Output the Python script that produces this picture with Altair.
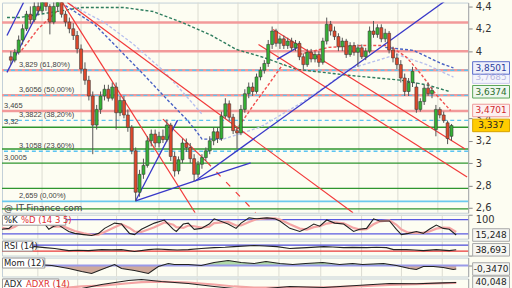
import altair as alt
import pandas as pd

# ---------------- price bars (weekly, index 0..113) ----------------
opens = [3.95, 3.92, 3.99, 4.10, 4.20, 4.33, 4.28, 4.40, 4.36, 4.45, 4.40, 4.26, 4.40, 4.44, 4.33, 4.26, 4.20, 4.14, 4.02, 3.84,
         3.74, 3.60, 3.34, 3.48, 3.60, 3.66, 3.58, 3.68, 3.45, 3.56, 3.43, 3.32, 3.11, 2.74, 2.90, 2.98, 3.20, 3.26, 3.18, 3.24,
         3.21, 3.34, 3.06, 2.93, 3.03, 3.18, 3.14, 3.04, 2.90, 2.99, 3.05, 3.11, 3.20, 3.28, 3.22, 3.42, 3.53, 3.41, 3.29, 3.27,
         3.48, 3.62, 3.68, 3.64, 3.77, 3.83, 3.89, 4.06, 4.18, 4.07, 4.11, 4.05, 4.09, 4.03, 4.07, 3.95, 3.88, 3.99, 3.93, 3.97,
         3.90, 4.09, 4.24, 4.18, 4.13, 4.04, 4.09, 3.97, 4.05, 3.99, 4.03, 3.95, 4.00, 4.18, 4.15, 4.21, 4.11, 4.16, 4.01, 3.94,
         3.88, 3.76, 3.64, 3.72, 3.68, 3.48, 3.55, 3.67, 3.62, 3.30, 3.48, 3.43, 3.36, 3.24]
highs = [4.00, 4.02, 4.14, 4.24, 4.36, 4.40, 4.44, 4.48, 4.50, 4.50, 4.42, 4.44, 4.50, 4.46, 4.36, 4.30, 4.25, 4.18, 4.06, 3.90,
         3.78, 3.64, 3.52, 3.64, 3.70, 3.70, 3.72, 3.72, 3.60, 3.60, 3.48, 3.34, 3.14, 2.94, 3.04, 3.24, 3.30, 3.30, 3.28, 3.30,
         3.39, 3.36, 3.10, 3.06, 3.22, 3.22, 3.18, 3.08, 3.02, 3.08, 3.14, 3.24, 3.32, 3.32, 3.46, 3.58, 3.56, 3.44, 3.32, 3.52,
         3.66, 3.72, 3.72, 3.80, 3.86, 3.92, 4.10, 4.22, 4.20, 4.14, 4.14, 4.12, 4.12, 4.10, 4.09, 3.98, 4.02, 4.02, 4.00, 4.00,
         4.12, 4.30, 4.27, 4.22, 4.16, 4.12, 4.11, 4.08, 4.08, 4.06, 4.06, 4.03, 4.22, 4.27, 4.24, 4.24, 4.20, 4.18, 4.04, 3.98,
         3.92, 3.80, 3.76, 3.86, 3.72, 3.58, 3.70, 3.72, 3.68, 3.52, 3.50, 3.46, 3.38, 3.35]
lows = [3.88, 3.90, 3.97, 4.06, 4.18, 4.24, 4.26, 4.32, 4.34, 4.36, 4.15, 4.24, 4.36, 4.30, 4.22, 4.16, 4.10, 3.98, 3.80, 3.70,
        3.56, 3.08, 3.30, 3.44, 3.56, 3.55, 3.56, 3.30, 3.42, 3.40, 3.28, 3.08, 2.659, 2.70, 2.86, 2.96, 3.15, 3.14, 3.14, 3.18,
        3.19, 3.02, 2.88, 2.90, 3.00, 3.10, 3.00, 2.84, 2.87, 2.95, 3.02, 3.08, 3.16, 3.18, 3.20, 3.40, 3.38, 3.26, 3.13, 3.25,
        3.45, 3.58, 3.60, 3.62, 3.74, 3.80, 3.86, 4.02, 4.04, 4.02, 4.02, 4.02, 4.00, 4.00, 3.92, 3.84, 3.86, 3.90, 3.90, 3.86,
        3.88, 4.06, 4.14, 4.10, 4.00, 4.00, 3.94, 3.95, 3.96, 3.86, 3.93, 3.92, 3.98, 4.12, 4.12, 4.08, 4.08, 3.98, 3.90, 3.84,
        3.72, 3.60, 3.60, 3.68, 3.45, 3.46, 3.52, 3.60, 3.58, 3.24, 3.40, 3.36, 3.17, 3.20]
closes = [3.92, 3.99, 4.10, 4.20, 4.33, 4.28, 4.40, 4.36, 4.45, 4.40, 4.26, 4.40, 4.44, 4.33, 4.26, 4.20, 4.14, 4.02, 3.84, 3.74,
          3.60, 3.34, 3.48, 3.60, 3.66, 3.58, 3.68, 3.45, 3.56, 3.43, 3.32, 3.11, 2.74, 2.90, 2.98, 3.20, 3.26, 3.18, 3.24, 3.21,
          3.34, 3.06, 2.93, 3.03, 3.18, 3.14, 3.04, 2.90, 2.99, 3.05, 3.11, 3.20, 3.28, 3.22, 3.42, 3.53, 3.41, 3.29, 3.27, 3.48,
          3.62, 3.68, 3.64, 3.77, 3.83, 3.89, 4.06, 4.18, 4.07, 4.11, 4.05, 4.09, 4.03, 4.07, 3.95, 3.88, 3.99, 3.93, 3.97, 3.90,
          4.09, 4.24, 4.18, 4.13, 4.04, 4.09, 3.97, 4.05, 3.99, 4.03, 3.95, 4.00, 4.18, 4.15, 4.21, 4.11, 4.16, 4.01, 3.94, 3.88,
          3.76, 3.64, 3.72, 3.82, 3.48, 3.55, 3.67, 3.62, 3.65, 3.48, 3.43, 3.38, 3.22, 3.337]

# month separators (bar index)
grid_idx = [8, 18, 27.75, 38, 48, 58.25, 68.5, 79, 89.25, 99.25, 109.5]

# horizontal levels
red_levels = [4.257, 4.0, 3.829, 3.6056, 3.465]
green_levels = [3.32, 3.126, 3.0005, 2.775, 2.592]
fib_levels = [3.829, 3.6056, 3.3822, 3.1058]
fib_base = [2.659]
fib_text = ["3,829 (61,80%)", "3,6056 (50,00%)", "3,3822 (38,20%)", "3,1058 (23,60%)", "2,659 (0,00%)"]
fib_text_p = [3.829, 3.6056, 3.3822, 3.1058, 2.659]
lvl_text = ["3,465", "3,32", "3,0005"]
lvl_text_p = [3.465, 3.32, 3.0005]

# trend lines: (start idx, start price, end idx, end price)
blue_lines = [(-1, 4.140, 3.25, 4.434), (-1, 3.811, 8.25, 4.434), (32, 2.664, 42.75, 3.384),
              (32, 2.664, 47.25, 2.841), (47.25, 2.841, 61.5, 3.002), (47.25, 2.841, 111.5, 4.452),
              (68.25, 3.927, 73.5, 4.034)]
red_lines = [(14.5, 4.434, 87.75, 2.557), (13.25, 4.434, 47.25, 2.557), (39, 3.393, 50.25, 3.011),
             (63.5, 4.060, 117, 2.877), (67.25, 4.194, 116.5, 3.126)]
red_dash_lines = [(50.25, 3.011, 62.75, 2.557)]

# dotted curves: idx list, price list
ma_idx = [-1, 2.25, 18.25, 29, 36.5, 44, 51.5, 57.75, 64.75, 73.25, 86.5, 100.25, 107, 112.75]
ma_p = [4.301, 4.301, 4.390, 4.390, 4.354, 4.256, 4.140, 4.016, 3.945, 3.838, 3.785, 3.740, 3.696, 3.6374]
bl1_idx = [14, 21.5, 27.75, 34, 40.25, 45.25, 47.75, 49, 54.5]
bl1_p = [4.407, 4.238, 4.016, 3.793, 3.562, 3.384, 3.277, 3.215, 3.215]
bl2_idx = [15.25, 24, 31.5, 39, 45.25, 49]
bl2_p = [4.416, 4.256, 4.060, 3.829, 3.589, 3.438]
lav_idx = [54.5, 64, 74.75, 81.5, 86.5, 99, 106.5, 113.5]
lav_p = [3.215, 3.322, 3.544, 3.704, 3.838, 3.971, 3.882, 3.7685]
blr_idx = [96, 103.25, 106.5, 110.25, 113.5]
blr_p = [4.034, 4.007, 3.954, 3.891, 3.8501]
rd1_idx = [2.75, 7, 12]
rd1_p = [4.007, 4.200, 4.363]
rd3_idx = [57.75, 62.75, 66.5, 69.75]
rd3_p = [3.295, 3.544, 3.722, 3.882]
rdr_idx = [74, 81.5, 90.25, 96.5, 97.75, 101.5, 105.25, 109, 112.75]
rdr_p = [3.971, 4.034, 4.051, 4.051, 4.034, 3.945, 3.793, 3.615, 3.4701]

# value boxes on the price scale
box_lab = ["3,7685", "3,8501", "3,6374", "3,4701", "3,337"]
box_p = [3.7685, 3.8501, 3.6374, 3.4701, 3.337]
box_fill = ["#f4f4fc", "#eef0fb", "#eef7ee", "#fdf0f0", "#ffcc00"]
box_stroke = ["#c9c9ee", "#5a6ccc", "#5aa65a", "#ee9a9a", "#d9a400"]
box_txt = ["#b8b8e0", "#2b3c9a", "#2c6e2c", "#d02a2a", "#222222"]

# stochastic
k_idx = [-1, 0.75, 2.25, 4, 6.5, 9.75, 10.75, 12, 13.25, 14.5, 15.75, 17.25, 19.5, 21.5, 23.25, 24.75, 27.25, 29, 31, 32.25,
         34, 37.25, 39.75, 42, 42.75, 44.5, 45.75, 47.25, 49, 51, 52.25, 55.75, 57.75, 59, 61, 63, 65.5, 67.5, 68.75, 71.25,
         73.75, 75.5, 77.25, 78.75, 80.5, 82.5, 84.75, 87.25, 88.75, 90.5, 92.25, 93.75, 96.25, 98, 99.25, 101, 103, 104.75,
         106.25, 108, 109.75, 111.25, 113]
k_val = [39, 43, 65, 83, 87, 61, 39, 52, 57, 43, 30, 22, 17, 13, 22, 43, 65, 61, 22, 17,
         39, 65, 78, 39, 30, 61, 65, 39, 43, 61, 83, 61, 43, 65, 87, 83, 87, 83, 74, 43,
         30, 43, 61, 52, 78, 65, 61, 30, 39, 43, 83, 74, 74, 39, 17, 22, 30, 22,
         39, 57, 43, 39, 15.248]
d_val = [45, 40, 50, 68, 80, 75, 60, 50, 50, 50, 42, 32, 22, 16, 17, 28, 48, 60, 45, 30,
         28, 48, 68, 58, 48, 45, 55, 52, 46, 50, 65, 70, 55, 55, 70, 82, 85, 85, 80, 60,
         42, 38, 48, 52, 63, 68, 64, 45, 38, 40, 60, 72, 76, 58, 38, 25, 24, 25,
         30, 42, 46, 45, 28]

# RSI
rsi_idx = [-1, 3, 7.25, 9.75, 12.25, 15.75, 18, 20.75, 24, 26.5, 29, 32.25, 35.75, 38, 40.75, 43, 45.75, 49, 52.25, 55,
           57.25, 62.25, 65, 68, 71.25, 73, 75.5, 79.75, 82, 84.75, 87, 90.5, 93, 95.5, 97.25, 100.5, 102.5, 104.75, 108,
           111.25, 113]
rsi_val = [58, 65, 60, 53, 47, 33, 36, 33, 40, 38, 40, 27, 40, 44, 40, 37, 40, 47, 53, 56,
           60, 67, 64, 60, 47, 50, 53, 60, 57, 53, 55, 53, 56, 53, 40, 40, 37, 33, 40,
           33, 38.693]

# momentum
mom_idx = [-1, 3, 7.25, 11.5, 15.75, 19, 21.5, 24, 27.25, 29, 32.25, 35.75, 38.25, 40.75, 42.25, 45.75, 49, 52.25, 55.75,
           59, 62.25, 65.25, 68.75, 72, 75.25, 79.5, 83.75, 87, 89.5, 94.75, 98, 101.25, 103, 104.75, 107.25, 109.75,
           112.25, 113]
mom_val = [0.2, 0.3, 0.1, 0.0, -0.3, -0.6, -0.8, -0.4, 0.1, -0.3, -0.5, -0.8, -0.1, 0.2, 0.1, 0.1, 0.0, 0.3, 0.5,
           0.3, 0.2, 0.4, 0.2, 0.1, 0.2, 0.3, 0.1, 0.2, 0.1, 0.2, 0.0, -0.3, -0.4, -0.1, -0.1, -0.2,
           -0.4, -0.347]

# ADX / ADXR
adx_idx = [-1, 8, 14, 19, 24, 30.75, 34, 39, 45.75, 52.25, 57.25, 62.25, 71.25, 79.75, 88, 96.25, 103, 109.75, 113]
adx_val = [24, 22, 22, 25, 35, 45, 47.5, 42.5, 37.5, 30, 25, 22.5, 30, 27.5, 32.5, 37.5, 37, 39, 40.048]
adxr_val = [26, 25, 26, 30, 32, 38, 41, 42, 40, 35, 30, 27, 27, 28, 30, 34, 36, 38, 39]

# ---------------- styling ----------------
W = 468
BG = "#fdfdf2"
XS = alt.Scale(domain=[-1, 116], nice=False, zero=False)
FONT = "DejaVu Sans"
GREEN_BAR = "#34b234"
RED_BAR = "#e0482a"


def xenc(field="i"):
    return alt.X(f"{field}:Q", scale=XS, axis=None)


def grid_layer():
    return alt.Chart(pd.DataFrame({"i": grid_idx})).mark_rule(color="#dcdcd2", strokeWidth=1).encode(x=xenc())


# ---------------- main price panel ----------------
PS = alt.Scale(domain=[2.557, 4.434], nice=False, zero=False)
price_axis = alt.Axis(orient="right", values=[2.6, 2.8, 3, 3.2, 3.4, 4, 4.2, 4.4],
                      labelExpr="replace(format(datum.value, '~g'), '.', ',')", grid=False,
                      labelFontSize=10, labelColor="#333333", labelFont=FONT, tickSize=4,
                      tickColor="#888888", domainColor="#aaaaaa", labelPadding=3, title=None)


def yp(field="p"):
    return alt.Y(f"{field}:Q", scale=PS, axis=price_axis)


bars = pd.DataFrame({"i": list(range(len(opens))), "o": opens, "h": highs, "l": lows, "c": closes})

def hline(levels, color, width, dash=None):
    kw = dict(color=color, strokeWidth=width)
    if dash:
        kw["strokeDash"] = dash
    return alt.Chart(pd.DataFrame({"p": levels})).mark_rule(**kw).encode(y=yp())


def seg_layer(segs, color, width, dash=None):
    df = pd.DataFrame(segs, columns=["i", "p", "i2", "p2"])
    kw = dict(color=color, strokeWidth=width, clip=True)
    if dash:
        kw["strokeDash"] = dash
    return alt.Chart(df).mark_rule(**kw).encode(x=xenc(), y=yp(), x2="i2:Q", y2="p2:Q")


def curve(ix, pv, color, width=1.4, dash=(3, 2)):
    df = pd.DataFrame({"i": ix, "p": pv})
    return alt.Chart(df).mark_line(color=color, strokeWidth=width, strokeDash=list(dash), clip=True).encode(
        x=xenc(), y=yp())


wicks = alt.Chart(bars).mark_rule(color="#555555", strokeWidth=1, clip=True).encode(x=xenc(), y=yp("l"), y2="h:Q")
bodies = alt.Chart(bars).mark_bar(size=3, stroke="#3a3a3a", strokeWidth=0.6, clip=True).encode(
    x=xenc(), y=yp("o"), y2="c:Q",
    fill=alt.condition("datum.c >= datum.o", alt.value(GREEN_BAR), alt.value(RED_BAR)))

fib_lbl = alt.Chart(pd.DataFrame({"p": fib_text_p, "t": fib_text})).mark_text(
    align="left", baseline="bottom", dy=-1, font="Liberation Sans", fontSize=7.5, color="#444444").encode(
    x=alt.value(17), y=yp(), text="t:N")
lvl_lbl = alt.Chart(pd.DataFrame({"p": lvl_text_p, "t": lvl_text})).mark_text(
    align="left", baseline="bottom", dy=-1, font="Liberation Sans", fontSize=7.5, color="#444444").encode(
    x=alt.value(2), y=yp(), text="t:N")
credit = alt.Chart(pd.DataFrame({"t": ["@ IT-Finance.com"]})).mark_text(
    align="left", baseline="middle", font=FONT, fontSize=9, color="#444444").encode(
    x=alt.value(2), y=alt.value(206), text="t:N")

BOX_PATH = "M-1,-0.34L1,-0.34L1,0.34L-1,0.34Z"
boxes_df = pd.DataFrame({"p": box_p, "t": box_lab})
box_marks = alt.Chart(boxes_df).mark_point(shape=BOX_PATH, size=1369, filled=True, opacity=1, strokeWidth=1).encode(
    x=alt.value(491), y=yp(),
    fill=alt.Fill("t:N", scale=alt.Scale(domain=box_lab, range=box_fill), legend=None),
    stroke=alt.Stroke("t:N", scale=alt.Scale(domain=box_lab, range=box_stroke), legend=None))
box_text = alt.Chart(boxes_df).mark_text(font=FONT, fontSize=9, baseline="middle").encode(
    x=alt.value(491), y=yp(), text="t:N",
    color=alt.Color("t:N", scale=alt.Scale(domain=box_lab, range=box_txt), legend=None))

main = alt.layer(
    grid_layer(),
    hline(red_levels, "#f29a9a", 2.5),
    hline(green_levels, "#2f962f", 1.4),
    hline(fib_levels, "#5cc4f2", 1.4, [4, 3]),
    hline(fib_base, "#6cc9ee", 1.6),
    curve(ma_idx, ma_p, "#2e7d5e"),
    curve(bl2_idx, bl2_p, "#b9c1ee"),
    curve(bl1_idx, bl1_p, "#4a62c4"),
    curve(lav_idx, lav_p, "#b9c1ee"),
    curve(blr_idx, blr_p, "#4a62c4"),
    curve(rd1_idx, rd1_p, "#f05050"),
    curve(rd3_idx, rd3_p, "#f05050"),
    curve(rdr_idx, rdr_p, "#f05050"),
    seg_layer(red_lines, "#f23a3a", 1.2),
    seg_layer(red_dash_lines, "#f23a3a", 1.2, [6, 8]),
    seg_layer(blue_lines, "#3838c8", 1.3),
    wicks, bodies,
    fib_lbl, lvl_lbl, credit,
    box_marks, box_text,
).properties(width=W, height=211)


# ---------------- indicator panels ----------------
def side_axis(values=None):
    kw = dict(orient="right", grid=False, title=None, labelFontSize=10, labelFont=FONT, labelColor="#333333",
              tickSize=4, tickColor="#888888", domainColor="#aaaaaa", labelPadding=3, labelBaseline="top")
    kw["values"] = values if values else [0]
    if not values:
        kw["labels"] = False
    return alt.Axis(**kw)


def title_box(parts, width):
    box = alt.Chart(pd.DataFrame({"a": [0]})).mark_rect(fill="#ffffff", stroke="#9a9a9a", strokeWidth=1).encode(
        x=alt.value(0.5), x2=alt.value(width), y=alt.value(0.5), y2=alt.value(10.5))
    layers = [box]
    for txt, xpos, col in parts:
        layers.append(alt.Chart(pd.DataFrame({"t": [txt]})).mark_text(
            align="left", baseline="middle", font=FONT, fontSize=8.5, color=col).encode(
            x=alt.value(xpos), y=alt.value(5.5), text="t:N"))
    return layers


def value_box(val, lab, scale, axis):
    df = pd.DataFrame({"v": [val], "t": [lab]})
    b = alt.Chart(df).mark_point(shape=BOX_PATH, size=1369, filled=True, opacity=1, fill="#f6f6f2",
                                 stroke="#a8a8a8", strokeWidth=1).encode(
        x=alt.value(491), y=alt.Y("v:Q", scale=scale, axis=axis))
    t = alt.Chart(df).mark_text(font=FONT, fontSize=9, baseline="middle", color="#222222").encode(
        x=alt.value(491), y=alt.Y("v:Q", scale=scale, axis=axis), text="t:N")
    return [b, t]


def ind_line(ix, vals, scale, axis, color, width):
    df = pd.DataFrame({"i": ix, "v": vals})
    return alt.Chart(df).mark_line(color=color, strokeWidth=width, clip=True).encode(
        x=xenc(), y=alt.Y("v:Q", scale=scale, axis=axis))


def ind_rule(levels, scale, axis, color, width):
    return alt.Chart(pd.DataFrame({"v": levels})).mark_rule(color=color, strokeWidth=width).encode(
        y=alt.Y("v:Q", scale=scale, axis=axis))


# Stochastic %K / %D
KS = alt.Scale(domain=[0, 100], nice=False)
kax = side_axis([100])
stoch = alt.layer(
    grid_layer(),
    ind_rule([80, 20], KS, kax, "#5a5ae0", 1.3),
    ind_line(k_idx, d_val, KS, kax, "#f4a4a4", 2.2),
    ind_line(k_idx, k_val, KS, kax, "#222222", 1.1),
    *title_box([("%K", 2, "#222222"), ("%D (14 3 5)", 19, "#e03030")], 64),
    *value_box(15.248, "15,248", KS, kax),
).properties(width=W, height=24)

# RSI
RS = alt.Scale(domain=[0, 100], nice=False)
rax = side_axis()
rsi = alt.layer(
    grid_layer(),
    ind_rule([70], RS, rax, "#4a4ad8", 1.3),
    ind_rule([30], RS, rax, "#e83a3a", 1.3),
    ind_line(rsi_idx, rsi_val, RS, rax, "#222222", 1.1),
    *title_box([("RSI (14)", 2, "#222222")], 31),
    *value_box(38.693, "38,693", RS, rax),
).properties(width=W, height=15)

# Momentum
MS = alt.Scale(domain=[-1.1, 0.8], nice=False, zero=False)
max_ = side_axis()
mom_df = pd.DataFrame({"i": mom_idx, "v": mom_val})
mom_pos = alt.Chart(mom_df).transform_calculate(pv="max(datum.v, 0)").mark_area(
    color="#a9d6a0", opacity=0.9, clip=True).encode(x=xenc(), y=alt.Y("pv:Q", scale=MS, axis=max_), y2=alt.datum(0))
mom_neg = alt.Chart(mom_df).transform_calculate(nv="min(datum.v, 0)").mark_area(
    color="#c9a091", opacity=0.9, clip=True).encode(x=xenc(), y=alt.Y("nv:Q", scale=MS, axis=max_), y2=alt.datum(0))
mom = alt.layer(
    grid_layer(),
    mom_pos, mom_neg,
    ind_rule([0], MS, max_, "#9a9ae8", 2),
    ind_line(mom_idx, mom_val, MS, max_, "#222222", 1.1),
    *title_box([("Mom (12)", 2, "#222222")], 43),
    *value_box(-0.347, "-0,3470", MS, max_),
).properties(width=W, height=19)

# ADX / ADXR
AS = alt.Scale(domain=[0, 50], nice=False, zero=False)
aax = side_axis()
adx = alt.layer(
    grid_layer(),
    ind_line(adx_idx, adxr_val, AS, aax, "#f4a4a4", 2.2),
    ind_line(adx_idx, adx_val, AS, aax, "#222222", 1.1),
    *title_box([("ADX", 2, "#222222"), ("ADXR (14)", 24, "#e03030")], 57),
    *value_box(40.048, "40,048", AS, aax),
).properties(width=W, height=20)

chart = alt.vconcat(main, stoch, rsi, mom, adx, spacing=2, bounds="flush").properties(
    padding=0, background=BG
).configure_view(stroke="#c3d0d8", strokeWidth=1)

chart.save("out.html", embed_options={"renderer": "svg", "actions": False})
